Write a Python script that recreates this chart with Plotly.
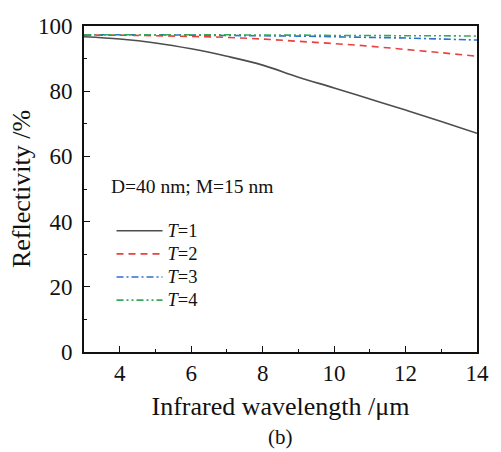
import plotly.graph_objects as go

wavelength = [3, 4, 5, 6, 7, 8, 9, 10, 11, 12, 13, 14]
t1 = [96.7, 96.0, 94.8, 93.0, 90.7, 88.0, 84.3, 81.0, 77.6, 74.2, 70.7, 67.1]
t2 = [97.2, 97.2, 97.0, 96.8, 96.5, 96.0, 95.3, 94.6, 93.8, 92.8, 91.8, 90.7]
t3 = [97.3, 97.3, 97.3, 97.2, 97.1, 97.0, 96.9, 96.7, 96.5, 96.3, 96.0, 95.7]
t4 = [97.3, 97.3, 97.3, 97.3, 97.3, 97.2, 97.2, 97.1, 97.1, 97.0, 97.0, 96.9]
labels = ["<i>T</i>=1", "<i>T</i>=2", "<i>T</i>=3", "<i>T</i>=4"]

colors = ["#4d4d4d", "#e8423f", "#2f6fcf", "#3aa65a"]
dashes = ["solid", "7px,5px", "7px,3px,2px,3px", "7px,3px,2px,3px,2px,3px"]

FONT = "Liberation Serif, Times New Roman, serif"

fig = go.Figure()
for ys, name, c, d in zip([t1, t2, t3, t4], labels, colors, dashes):
    fig.add_trace(go.Scatter(x=wavelength, y=ys, mode="lines",
                             name='<span style="font-size:18.5px">' + name + '</span>',
                             line=dict(color=c, width=1.6, dash=d, shape="spline")))

axis_common = dict(
    showline=True, mirror=True, linecolor="#111111", linewidth=1.6,
    ticks="inside", ticklen=6, tickwidth=1.2, tickcolor="#111111",
    showgrid=False, zeroline=False,
    tickfont=dict(family=FONT, size=23, color="#111111"),
)

fig.update_layout(
    width=501, height=452,
    margin=dict(l=84, r=12, t=26, b=100),
    paper_bgcolor="white", plot_bgcolor="white",
    font=dict(family=FONT, color="#111111"),
    showlegend=True,
    legend=dict(x=0.07, y=0.423, xanchor="left", yanchor="top",
                bgcolor="rgba(0,0,0,0)", font=dict(family=FONT, size=15.5, color="#111111"),
                itemwidth=46, tracegroupgap=0),
    xaxis=dict(range=[3, 14], dtick=2, tick0=0,
               minor=dict(ticks="inside", dtick=1, ticklen=3, tickcolor="#111111"),
               title=dict(text="Infrared wavelength /μm", font=dict(family=FONT, size=26), standoff=11),
               **axis_common),
    yaxis=dict(range=[0, 100], dtick=20, ticklabelstandoff=5,
               minor=dict(ticks="inside", dtick=10, ticklen=3, tickcolor="#111111"),
               title=dict(text="Reflectivity /%", font=dict(family=FONT, size=26), standoff=0),
               **axis_common),
    annotations=[
        dict(text="D=40 nm; M=15 nm", xref="paper", yref="paper", x=0.063, y=0.508,
             xanchor="left", yanchor="middle", showarrow=False,
             font=dict(family=FONT, size=19.5, color="#111111")),
        dict(text="(b)", xref="paper", yref="paper", x=0.5, y=-0.26,
             xanchor="center", yanchor="middle", showarrow=False,
             font=dict(family=FONT, size=21, color="#111111")),
    ],
)

fig.write_html("out.html")
